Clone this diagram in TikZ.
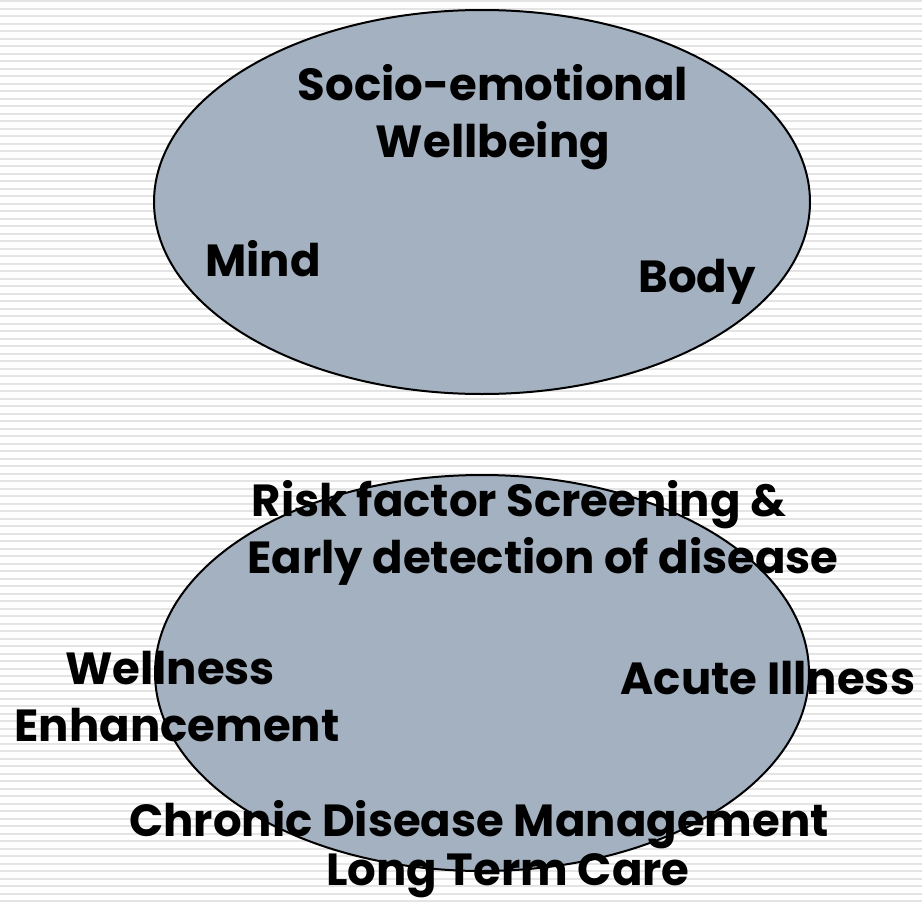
\documentclass[tikz,border=0pt]{standalone}
\usepackage{fontspec}
\setmainfont{Poppins}
\definecolor{ellfill}{RGB}{163,177,192}
\definecolor{stripe}{RGB}{228,228,228}
\begin{document}
\begin{tikzpicture}[x=1pt,y=-1pt,
  ell/.style={draw=black,line width=2pt,fill=ellfill},
  lbl/.style={font=\bfseries\fontsize{45}{57}\selectfont,inner sep=0pt,anchor=base,text=black}]
\useasboundingbox (0,0) rectangle (922,902);
\fill[white] (0,0) rectangle (922,902);
\foreach \k in {0,...,120} {
  \draw[stripe,line width=2pt] (0,{1+7.5*\k}) -- (922,{1+7.5*\k});
}
\draw[ell] (482,202) ellipse [x radius=328, y radius=192];
\draw[ell] (482,673) ellipse [x radius=327, y radius=198];
\node[lbl] (se1) at (493,100) {Socio-emotional};
\node[lbl] (se2) at (493,157) {Wellbeing};
\node[lbl] (mind) at (263,276) {Mind};
\node[lbl] (body) at (697,292) {Body};
\node[lbl] (rf1) at (519,516) {Risk factor Screening \&};
\node[lbl] (rf2) at (543,573) {Early detection of disease};
\node[lbl] (we1) at (170,684) {Wellness};
\node[lbl] (we2) at (177,741) {Enhancement};
\node[lbl] (ai) at (768,694) {Acute Illness};
\node[lbl] (cd1) at (479,836) {Chronic Disease Management};
\node[lbl] (cd2) at (508,885) {Long Term Care};
\end{tikzpicture}
\end{document}
